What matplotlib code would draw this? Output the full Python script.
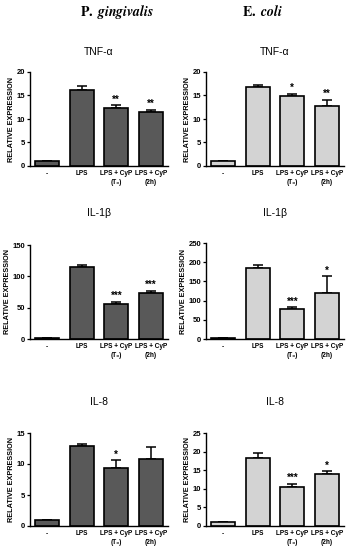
import numpy as np
import matplotlib
matplotlib.use("Agg")
import matplotlib.pyplot as plt

plt.rcParams["font.family"] = ["Liberation Sans", "DejaVu Sans"]
plt.rcParams["mathtext.fontset"] = "stix"

grupos = ["-", "LPS", "LPS + CyP\n(T₀)", "LPS + CyP\n(2h)"]

# P. gingivalis
pg_tnf = [1.0, 16.1, 12.3, 11.5]
pg_tnf_err = [0, 0.9, 0.6, 0.5]
pg_tnf_sig = ["", "", "**", "**"]
pg_il1b = [1.5, 115, 56, 73]
pg_il1b_err = [0, 3, 3.5, 4]
pg_il1b_sig = ["", "", "***", "***"]
pg_il8 = [1.0, 12.9, 9.4, 10.8]
pg_il8_err = [0, 0.25, 1.25, 2.0]
pg_il8_sig = ["", "", "*", ""]

# E. coli
ec_tnf = [1.0, 16.9, 14.9, 12.8]
ec_tnf_err = [0, 0.4, 0.5, 1.3]
ec_tnf_sig = ["", "", "*", "**"]
ec_il1b = [2, 185, 77, 121]
ec_il1b_err = [0, 9, 6, 42]
ec_il1b_sig = ["", "", "***", "*"]
ec_il8 = [1.0, 18.4, 10.5, 13.9]
ec_il8_err = [0, 1.2, 0.9, 0.9]
ec_il8_sig = ["", "", "***", "*"]

yticks = {
    "tnf": [0, 5, 10, 15, 20],
    "pg_il1b": [0, 50, 100, 150],
    "ec_il1b": [0, 50, 100, 150, 200, 250],
    "pg_il8": [0, 5, 10, 15],
    "ec_il8": [0, 5, 10, 15, 20, 25],
}

W, H = 350, 550
fig = plt.figure(figsize=(3.5, 5.5), dpi=100)


def panel(rect_px, vals, errs, sig, ticks, color, titulo, y_tit):
    x0, y_top, x1, y_bot = rect_px
    ax = fig.add_axes([x0 / W, 1 - y_bot / H, (x1 - x0) / W, (y_bot - y_top) / H])
    x = np.arange(len(vals))
    ax.bar(x, vals, width=0.7, color=color, edgecolor="black", linewidth=1.2, zorder=2)
    ax.errorbar(x, vals, yerr=[np.zeros(len(errs)), errs], fmt="none",
                ecolor="black", elinewidth=1.1, capsize=3.5, capthick=1.1, zorder=1)
    ymax = ticks[-1]
    for xi, v, e, s in zip(x, vals, errs, sig):
        if s:
            ax.text(xi, v + e + ymax * 0.005, s, ha="center", va="bottom",
                    fontsize=7, fontweight="bold")
    ax.set_xlim(-0.5, 3.5)
    ax.set_ylim(0, ymax)
    ax.set_yticks(ticks)
    ax.set_xticks(x)
    ax.set_xticklabels(grupos, fontsize=4.7, fontweight="bold", linespacing=1.3)
    ax.tick_params(axis="x", length=0, pad=3)
    ax.tick_params(axis="y", length=2.5, width=0.9, labelsize=5.5, pad=1)
    for t in ax.get_yticklabels():
        t.set_fontweight("bold")
    for sp in ["top", "right"]:
        ax.spines[sp].set_visible(False)
    for sp in ["left", "bottom"]:
        ax.spines[sp].set_linewidth(1.0)
    ax.set_ylabel("RELATIVE EXPRESSION", fontsize=5.2, fontweight="bold", labelpad=1)
    fig.text((x0 + x1) / 2 / W, 1 - y_tit / H, titulo, ha="center", va="center",
             fontsize=7.5)
    return ax


oscuro = "#595959"
claro = "#d3d3d3"

panel((30, 72, 168, 166), pg_tnf, pg_tnf_err, pg_tnf_sig, yticks["tnf"], oscuro, "TNF-α", 52)
panel((206, 72, 344, 166), ec_tnf, ec_tnf_err, ec_tnf_sig, yticks["tnf"], claro, "TNF-α", 52)
panel((30, 245, 168, 339), pg_il1b, pg_il1b_err, pg_il1b_sig, yticks["pg_il1b"], oscuro, "IL-1β", 213)
panel((206, 243, 344, 339), ec_il1b, ec_il1b_err, ec_il1b_sig, yticks["ec_il1b"], claro, "IL-1β", 213)
panel((30, 433, 168, 526), pg_il8, pg_il8_err, pg_il8_sig, yticks["pg_il8"], oscuro, "IL-8", 402)
panel((206, 433, 344, 526), ec_il8, ec_il8_err, ec_il8_sig, yticks["ec_il8"], claro, "IL-8", 402)

fig.text(117 / W, 1 - 12 / H, r"$\mathbf{P.}\ \mathbfit{gingivalis}$", ha="center",
         va="center", fontsize=10)
fig.text(262 / W, 1 - 12 / H, r"$\mathbf{E.}\ \mathbfit{coli}$", ha="center",
         va="center", fontsize=10)

plt.savefig("out.png", dpi=100)
plt.close()
